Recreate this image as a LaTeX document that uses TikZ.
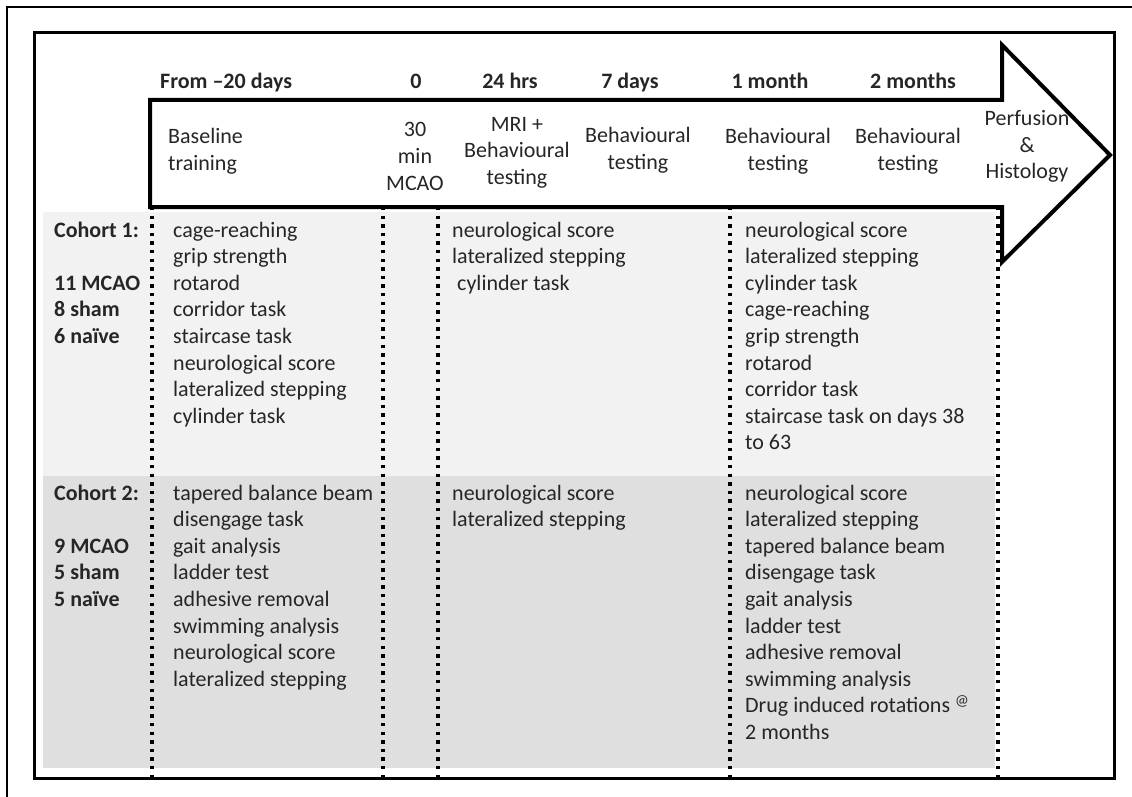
\documentclass[tikz,border=0pt]{standalone}
\usepackage{fontspec}
\setmainfont{Carlito}
\definecolor{txt}{HTML}{262626}
\definecolor{bgone}{HTML}{F2F2F2}
\definecolor{bgtwo}{HTML}{DFDFDF}
\newcommand{\tfont}{\fontsize{22}{26.6}\selectfont}
\tikzset{
 lst/.style={anchor=base west, inner sep=0pt, font=\tfont, text=txt},
 hdr/.style={anchor=base, inner sep=0pt, font=\tfont\bfseries, text=txt},
 lbl/.style={anchor=base west, inner sep=0pt, font=\tfont\bfseries, text=txt},
 phase/.style={align=center, inner sep=0pt, font=\tfont, text=txt},
 dots/.style={line width=3.4pt, dash pattern=on 3.4pt off 5.2pt, black},
}
\begin{document}
\begin{tikzpicture}[x=1pt,y=-1pt]
\useasboundingbox (0,0) rectangle (1132,797);
% backgrounds
\fill[bgone] (43,212) rectangle (995,476);
\fill[bgtwo] (43,476) rectangle (995,768);
% dotted separators
\foreach \xx/\nm in {152/a,383/b,438/c,730/d,998/e} {
  \coordinate (top\nm) at (\xx,207);
  \coordinate (bot\nm) at (\xx,778);
  \draw[dots] (top\nm) -- (bot\nm);
}
% timeline arrow
\draw[line width=4pt, fill=white, line join=miter]
  (150,100) -- (1002,100) -- (1002,45) -- (1110,155) -- (1002,262) -- (1002,207) -- (150,207) -- cycle;
% frames
\draw[line width=3pt] (34,33) rectangle (1114,778);
\draw[line width=2.2pt] (7,797) -- (7,7) -- (1132,7);
% time labels
\node[lbl] (h0) at (160,89) {From –20 days};
\node[hdr] (h1) at (416,89) {0};
\node[hdr] (h2) at (510,89) {24 hrs};
\node[hdr] (h3) at (630,89) {7 days};
\node[hdr] (h4) at (770,89) {1 month};
\node[hdr] (h5) at (913,89) {2 months};
% phases in arrow
\node[phase, align=left, anchor=west] (p0) at (168,151.5) {Baseline\\training};
\node[phase] (p1) at (415,156.5) {30\\min\\MCAO};
\node[phase] (p2) at (517,152.5) {MRI +\\Behavioural\\testing};
\node[phase] (p3) at (638,150.5) {Behavioural\\testing};
\node[phase] (p4) at (778,151) {Behavioural\\testing};
\node[phase] (p5) at (908,151.5) {Behavioural\\testing};
\node[phase] (p6) at (1027,146.5) {Perfusion\\\&\\Histology};
% cohort 1
\node[lbl] (k1a) at (54,237) {Cohort 1:};
\node[lbl] (k1b) at (54,290.2) {11 MCAO};
\node[lbl] (k1c) at (54,316.8) {8 sham};
\node[lbl] (k1d) at (54,343.4) {6 naïve};
\foreach \t [count=\i] in {cage-reaching, grip strength, rotarod, corridor task, staircase task, neurological score, lateralized stepping, cylinder task}
  \node[lst] (c1a\i) at (173,{237+26.6*(\i-1)}) {\t};
\foreach \t [count=\i] in {neurological score, lateralized stepping, {\hspace*{5pt}cylinder task}}
  \node[lst] (c1b\i) at (452,{237+26.6*(\i-1)}) {\t};
\foreach \t [count=\i] in {neurological score, lateralized stepping, cylinder task, cage-reaching, grip strength, rotarod, corridor task, staircase task on days 38, to 63}
  \node[lst] (c1c\i) at (745,{237+26.6*(\i-1)}) {\t};
% cohort 2
\node[lbl] (k2a) at (54,500) {Cohort 2:};
\node[lbl] (k2b) at (54,553.2) {9 MCAO};
\node[lbl] (k2c) at (54,579.8) {5 sham};
\node[lbl] (k2d) at (54,606.4) {5 naïve};
\foreach \t [count=\i] in {tapered balance beam, disengage task, gait analysis, ladder test, adhesive removal, swimming analysis, neurological score, lateralized stepping}
  \node[lst] (c2a\i) at (173,{500+26.6*(\i-1)}) {\t};
\foreach \t [count=\i] in {neurological score, lateralized stepping}
  \node[lst] (c2b\i) at (452,{500+26.6*(\i-1)}) {\t};
\foreach \t [count=\i] in {neurological score, lateralized stepping, tapered balance beam, disengage task, gait analysis, ladder test, adhesive removal, swimming analysis, {Drug induced rotations \textsuperscript{@}}, 2 months}
  \node[lst] (c2c\i) at (745,{500+26.6*(\i-1)}) {\t};
\end{tikzpicture}
\end{document}
